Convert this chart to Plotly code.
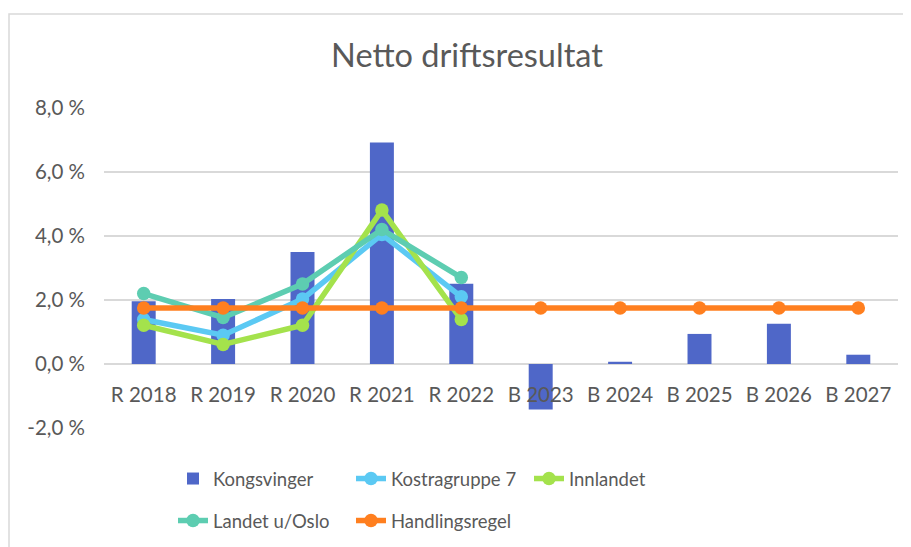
import plotly.graph_objects as go

categories = ["R 2018", "R 2019", "R 2020", "R 2021", "R 2022",
              "B 2023", "B 2024", "B 2025", "B 2026", "B 2027"]
kongsvinger = [1.96, 2.03, 3.5, 6.92, 2.51, -1.42, 0.07, 0.94, 1.26, 0.29]
kostragruppe7 = [1.39, 0.9, 2.03, 4.05, 2.1, None, None, None, None, None]
innlandet = [1.21, 0.61, 1.21, 4.81, 1.39, None, None, None, None, None]
landet_u_oslo = [2.2, 1.45, 2.5, 4.2, 2.7, None, None, None, None, None]
handlingsregel = [1.75] * 10

y_tickvals = [-2, 0, 2, 4, 6, 8]
y_ticktext = ["-2,0 %", "0,0 %", "2,0 %", "4,0 %", "6,0 %", "8,0 %"]

FONT = "Lato, Carlito, Calibri, sans-serif"
GREY = "#595959"

fig = go.Figure()
fig.add_trace(go.Bar(x=categories, y=kongsvinger, name="Kongsvinger",
                     marker=dict(color="#4F67C8", line=dict(width=0)),
                     legend="legend"))

line_series = [
    ("Kostragruppe 7", kostragruppe7, "#5BC9F3", "legend"),
    ("Innlandet", innlandet, "#A4E24C", "legend"),
    ("Landet u/Oslo", landet_u_oslo, "#5DCDB1", "legend2"),
    ("Handlingsregel", handlingsregel, "#FF7F1F", "legend2"),
]
for name, vals, col, lg in line_series:
    fig.add_trace(go.Scatter(x=categories, y=vals, name=name, mode="lines+markers",
                             line=dict(color=col, width=5.5),
                             marker=dict(color=col, size=13.5),
                             legend=lg))

# page body has an 8px default margin; work in page pixels and convert
OFF = 8
W, H = 911, 547
PL, PR, PT, PB = 104, 898, 108, 428          # plot area in page pixels
L, T = PL - OFF, PT - OFF
R, B = W - (PR - OFF), H - (PB - OFF)
pw, ph = PR - PL, PB - PT

def px_x(x):
    return (x - PL) / pw

def px_y(y):
    return (PB - y) / ph

fig.update_layout(
    width=W, height=H,
    margin=dict(l=L, r=R, t=T, b=B, autoexpand=False),
    paper_bgcolor="white", plot_bgcolor="white",
    font=dict(family=FONT, color=GREY, size=19),
    bargap=0.698,
    title=dict(text="Netto driftsresultat", xref="container", x=(467 - OFF) / W,
               xanchor="center", yref="container", y=1 - (56 - OFF) / H, yanchor="middle",
               font=dict(family=FONT, size=32.5, color=GREY)),
    xaxis=dict(anchor="free", position=px_y(364), range=[-0.5, 9.5],
               showgrid=False, showline=False,
               zeroline=False, ticks="", ticklabelstandoff=16, automargin=False,
               tickfont=dict(size=20.5, color=GREY)),
    yaxis=dict(range=[-2, 8], tickvals=y_tickvals, ticktext=y_ticktext,
               showgrid=True, gridcolor="#D9D9D9", gridwidth=1.5,
               zeroline=True, zerolinecolor="#D9D9D9", zerolinewidth=1.5,
               showline=False, ticks="", ticklabelstandoff=18, automargin=False,
               tickfont=dict(size=20.5, color=GREY)),
    legend=dict(orientation="h", x=px_x(173), y=px_y(479), xanchor="left", yanchor="middle",
                entrywidth=133, entrywidthmode="pixels", font=dict(size=18.5, color=GREY),
                bgcolor="rgba(0,0,0,0)", traceorder="normal", itemwidth=30),
    legend2=dict(orientation="h", x=px_x(173), y=px_y(521), xanchor="left", yanchor="middle",
                 entrywidth=133, entrywidthmode="pixels", font=dict(size=18.5, color=GREY),
                 bgcolor="rgba(0,0,0,0)", traceorder="normal", itemwidth=30),
    showlegend=True,
    shapes=[dict(type="rect", xref="paper", yref="paper",
                 x0=px_x(9), x1=px_x(960), y0=px_y(600), y1=px_y(14),
                 line=dict(color="#D9D9D9", width=1.5), fillcolor="rgba(0,0,0,0)",
                 layer="below")],
)

fig.write_html("out.html")
